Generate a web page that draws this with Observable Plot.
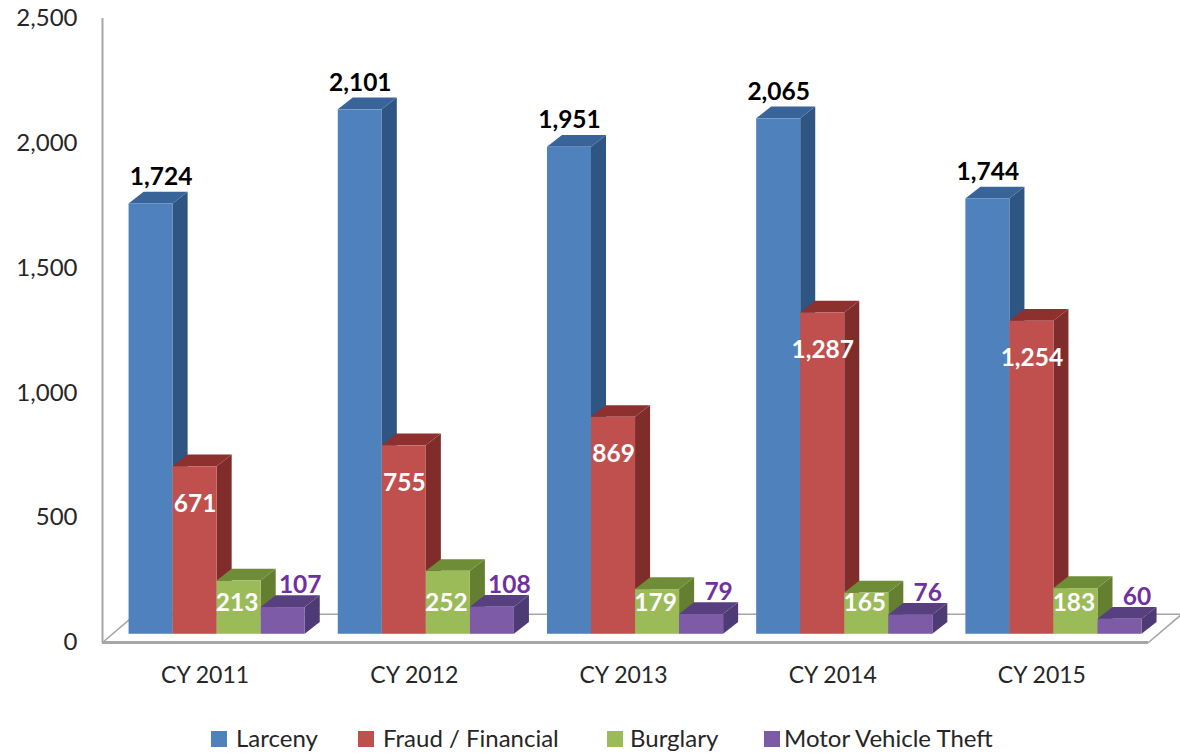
<!DOCTYPE html>
<html>
<head>
<meta charset="utf-8">
<script src="https://cdn.jsdelivr.net/npm/d3@7"></script>
<script src="https://cdn.jsdelivr.net/npm/@observablehq/plot@0.6"></script>
<style>
html,body{margin:0;padding:0;background:#fff;width:1180px;height:755px;overflow:hidden}
#legend{position:relative;height:55px;font:24px Lato,sans-serif;color:#262626}
#legend i{position:absolute;top:31px;width:16px;height:16px}
#legend b{font-weight:400;position:absolute;top:24px;line-height:28px;white-space:nowrap}
svg{display:block}
</style>
</head>
<body>
<div id="chart"></div>
<div id="legend"></div>
<script>
const categories = ["CY 2011", "CY 2012", "CY 2013", "CY 2014", "CY 2015"];
const seriesNames = ["Larceny", "Fraud / Financial", "Burglary", "Motor Vehicle Theft"];
const larceny = [1724, 2101, 1951, 2065, 1744];
const fraud = [671, 755, 869, 1287, 1254];
const burglary = [213, 252, 179, 165, 183];
const motorTheft = [107, 108, 79, 76, 60];
const yTicks = [0, 500, 1000, 1500, 2000, 2500];

const frontColors = ["#4f81bd", "#c0504d", "#9bbb59", "#7d5ba6"];
const sideColors = ["#2f5583", "#7f2c2a", "#647f2f", "#4e3a74"];
const topColors = ["#38649a", "#8e302e", "#6f8c36", "#573f80"];
const labelColors = ["#000000", "#ffffff", "#ffffff", "#7030a0"];

// geometry in scale units: one band per category
const barStart = 0.127, barW = 0.2105, depthX = 0.0718, depthY = 47, baseY = 33;
const floorX = 0.158, floorY = 113;

const seriesValues = [larceny, fraud, burglary, motorTheft];
const bars = seriesValues.flatMap((vals, s) => vals.map((v, i) => ({
  key: s + "-" + i, s, i, v,
  x0: i + barStart + s * barW,
  x1: i + barStart + (s + 1) * barW,
  top: v + baseY
})));

const sides = bars.flatMap(b => [
  {z: b.key, s: b.s, x: b.x1, y1: baseY, y2: b.top},
  {z: b.key, s: b.s, x: b.x1 + depthX, y1: baseY + depthY, y2: b.top + depthY}
]);
const tops = bars.flatMap(b => [
  {z: b.key, s: b.s, y: b.top, x1: b.x0, x2: b.x1},
  {z: b.key, s: b.s, y: b.top + depthY, x1: b.x0 + depthX, x2: b.x1 + depthX}
]);

const layers = [0, 1, 2, 3].flatMap(s => [
  Plot.areaY(sides.filter(d => d.s === s), {x: "x", y1: "y1", y2: "y2", z: "z", fill: sideColors[s], curve: "linear"}),
  Plot.areaX(tops.filter(d => d.s === s), {y: "y", x1: "x1", x2: "x2", z: "z", fill: topColors[s], curve: "linear"}),
  Plot.rect(bars.filter(d => d.s === s), {x1: "x0", x2: "x1", y1: baseY, y2: "top", fill: frontColors[s]})
]);

const floorLines = [
  {z: "l", x: 0, y: 0}, {z: "l", x: floorX, y: floorY},
  {z: "b", x: floorX, y: floorY}, {z: "b", x: 5 + floorX, y: floorY},
  {z: "r", x: 5, y: 0}, {z: "r", x: 5 + floorX, y: floorY}
];

const fmt = d3.format(",");
const labelFont = {fontSize: 24.5, fontWeight: 700, text: d => fmt(d.v)};
const nudge = new Map([[0, 0.048]]);

const chart = Plot.plot({
  width: 1180,
  height: 700,
  marginLeft: 102,
  marginRight: 32,
  marginTop: 18,
  marginBottom: 58,
  x: {domain: [0, 5], axis: null},
  y: {domain: [0, 2500], axis: null},
  style: {fontFamily: "Lato, sans-serif", background: "#fff"},
  marks: [
    Plot.line(floorLines, {x: "x", y: "y", z: "z", stroke: "#a6a6a6", strokeWidth: 1.6}),
    ...layers,
    Plot.ruleX([0], {y1: 0, y2: 2500, stroke: "#a6a6a6", strokeWidth: 2}),
    Plot.ruleY([0], {x1: 0, x2: 5, stroke: "#a6a6a6", strokeWidth: 3}),
    Plot.axisY({ticks: yTicks, tickSize: 0, tickPadding: 25, tickFormat: d => fmt(d), fontSize: 24, label: null, color: "#262626"}),
    Plot.text(categories, {x: (d, i) => i + 0.5, y: 0, dx: -2, dy: 33, text: d => d, fontSize: 23, fill: "#262626"}),
    // larceny labels above the bars
    Plot.text(bars.filter(d => d.s === 0), {...labelFont, x: d => (d.x0 + d.x1) / 2 + (nudge.get(d.i) || 0), y: "top", dy: -27, fill: labelColors[0]}),
    // fraud labels inside the bars
    Plot.text(bars.filter(d => d.s === 1), {...labelFont, x: d => (d.x0 + d.x1) / 2, y: d => d.v - 115, fill: labelColors[1]}),
    // burglary labels sit at about one level
    Plot.text(bars.filter(d => d.s === 2), {...labelFont, x: d => (d.x0 + d.x1) / 2, y: 158, dx: -2, fill: labelColors[2]}),
    // motor vehicle theft labels up and right
    Plot.text(bars.filter(d => d.s === 3), {...labelFont, x: d => (d.x0 + d.x1) / 2, y: "top", dx: 17, dy: -22, fill: labelColors[3]})
  ]
});
document.getElementById("chart").append(chart);

const legend = document.getElementById("legend");
const swatchLeft = [211, 358, 607, 764];
const textLeft = [236, 383, 630, 784];
seriesNames.forEach((name, s) => {
  const sw = document.createElement("i");
  sw.style.background = frontColors[s];
  sw.style.left = swatchLeft[s] + "px";
  const t = document.createElement("b");
  t.textContent = name;
  t.style.left = textLeft[s] + "px";
  legend.append(sw, t);
});
</script>
</body>
</html>
